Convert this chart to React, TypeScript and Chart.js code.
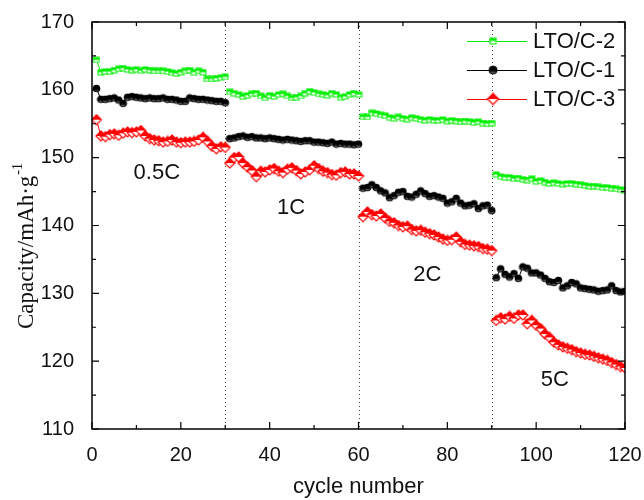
import React, { useEffect, useRef } from "react";
import { Chart, registerables } from "chart.js";

Chart.register(...registerables);

// ---------- data ----------
const cycles: number[] = Array.from({ length: 120 }, (_, i) => i + 1);

const seriesNames = ["LTO/C-2", "LTO/C-1", "LTO/C-3"];
const seriesColors = ["#00ee00", "#000000", "#ff0000"];

// LTO/C-2 (green)
const ltoC2: number[] = [
  164.4, 162.6, 162.7, 162.7, 162.9, 163.1, 163.2, 163.0, 162.9, 163.0, 162.8, 163.0, 162.9, 162.8, 162.8, 162.8, 162.7, 162.5, 162.4, 162.6, 162.8, 162.9, 162.6, 162.8, 162.6, 161.6, 161.6, 161.7, 161.8, 161.9,
  159.7, 159.5, 159.3, 159.0, 159.2, 159.4, 159.5, 159.1, 158.8, 159.2, 159.0, 159.3, 159.4, 159.1, 158.8, 158.9, 159.1, 159.5, 159.8, 159.6, 159.4, 159.3, 159.2, 159.5, 159.3, 158.9, 159.0, 159.3, 159.5, 159.3,
  156.0, 156.0, 156.6, 156.5, 156.3, 156.2, 155.9, 155.8, 156.0, 155.8, 155.7, 155.9, 155.8, 155.6, 155.5, 155.6, 155.5, 155.5, 155.6, 155.4, 155.5, 155.4, 155.3, 155.4, 155.3, 155.2, 155.3, 155.1, 155.0, 155.1,
  147.5, 147.2, 147.1, 147.1, 146.9, 147.0, 146.8, 146.7, 146.9, 146.5, 146.6, 146.4, 146.2, 146.3, 146.2, 146.1, 146.2, 146.2, 146.1, 146.0, 145.9, 145.8, 145.8, 145.7, 145.6, 145.6, 145.5, 145.4, 145.3, 145.2,
];

// LTO/C-1 (black)
const ltoC1: number[] = [
  160.2, 158.6, 158.6, 158.7, 158.8, 158.5, 158.0, 158.9, 159.0, 158.9, 158.8, 158.7, 158.8, 158.7, 158.7, 158.8, 158.6, 158.6, 158.5, 158.3, 158.3, 158.8, 158.7, 158.6, 158.6, 158.5, 158.4, 158.3, 158.3, 158.1,
  152.8, 152.9, 153.1, 153.2, 153.0, 153.1, 152.9, 152.9, 152.8, 152.9, 152.8, 152.7, 152.6, 152.7, 152.6, 152.5, 152.4, 152.5, 152.5, 152.3, 152.3, 152.2, 152.1, 152.3, 152.0, 152.1, 152.0, 152.0, 151.9, 152.0,
  145.5, 145.6, 146.0, 145.6, 145.1, 144.8, 144.1, 144.4, 144.9, 145.0, 144.3, 144.2, 144.6, 145.1, 144.7, 144.3, 144.4, 144.2, 144.0, 143.3, 143.5, 144.0, 143.3, 142.9, 143.0, 143.2, 142.5, 142.9, 143.0, 142.2,
  132.3, 133.6, 132.8, 132.4, 132.9, 132.2, 133.9, 133.7, 133.0, 133.0, 132.7, 132.2, 131.7, 131.6, 131.9, 130.8, 131.1, 131.6, 131.4, 130.8, 130.7, 130.6, 130.5, 130.3, 130.4, 130.5, 131.1, 130.4, 130.2, 130.3,
];

// LTO/C-3 (red)
const ltoC3: number[] = [
  155.6, 153.2, 153.1, 153.4, 153.5, 153.3, 153.6, 153.8, 153.7, 153.8, 154.0, 153.2, 152.8, 152.6, 152.5, 152.3, 152.4, 152.6, 152.3, 152.2, 152.3, 152.3, 152.4, 152.6, 153.0, 152.4, 151.7, 151.3, 151.6, 151.5,
  149.2, 150.0, 150.1, 149.2, 148.6, 148.1, 147.2, 148.0, 147.9, 148.2, 148.4, 148.0, 147.8, 148.3, 148.5, 148.1, 147.6, 147.9, 148.2, 148.8, 148.4, 148.0, 147.8, 147.5, 147.4, 147.8, 147.9, 147.6, 147.6, 147.3,
  141.3, 142.0, 141.6, 141.4, 141.7, 141.1, 140.6, 140.4, 140.0, 139.8, 139.9, 139.4, 139.2, 139.3, 139.0, 138.8, 138.6, 138.3, 138.0, 137.8, 137.9, 138.3, 137.6, 137.2, 137.1, 137.0, 136.9, 136.6, 136.5, 136.3,
  126.0, 126.4, 126.2, 126.6, 126.3, 126.8, 126.8, 125.5, 126.0, 125.3, 124.8, 124.0, 123.5, 122.8, 122.4, 122.1, 121.9, 121.7, 121.4, 121.2, 121.0, 120.9, 120.7, 120.5, 120.3, 120.1, 119.8, 119.5, 119.2, 119.0,
];

const rateBoundaries = [30, 60, 90];
const rateLabels = ["0.5C", "1C", "2C", "5C"];
const rateLabelX = [14.6, 44.8, 75.5, 104.2];
const rateLabelY = [147.7, 142.6, 132.7, 117.3];

const xTicksMajor = [0, 20, 40, 60, 80, 100, 120];
const yTicksMajor = [110, 120, 130, 140, 150, 160, 170];

// ---------- marker images ----------
function makeSquare(color: string) {
  const c = document.createElement("canvas");
  c.width = 8;
  c.height = 7;
  const g = c.getContext("2d")!;
  g.fillStyle = "#fff";
  g.fillRect(1, 1, 6, 5);
  g.fillStyle = color;
  g.fillRect(1, 1, 6, 2.5);
  g.strokeStyle = color;
  g.lineWidth = 1;
  g.strokeRect(1, 1, 6, 5);
  return c;
}
function makeCircle() {
  const c = document.createElement("canvas");
  c.width = 9;
  c.height = 9;
  const g = c.getContext("2d")!;
  g.beginPath();
  g.arc(4.5, 4.5, 3.8, 0, Math.PI * 2);
  g.fillStyle = "#000";
  g.fill();
  g.beginPath();
  g.arc(4.5, 4.5, 3.0, 0.15 * Math.PI, 0.85 * Math.PI);
  g.fillStyle = "#555";
  g.fill();
  return c;
}
function makeDiamond(color: string) {
  const c = document.createElement("canvas");
  c.width = 12;
  c.height = 12;
  const g = c.getContext("2d")!;
  const cx = 6, cy = 6, r = 5;
  g.beginPath();
  g.moveTo(cx, cy - r);
  g.lineTo(cx + r, cy);
  g.lineTo(cx, cy + r);
  g.lineTo(cx - r, cy);
  g.closePath();
  g.fillStyle = "#fff";
  g.fill();
  g.beginPath();
  g.moveTo(cx, cy - r);
  g.lineTo(cx + r, cy);
  g.lineTo(cx - r, cy);
  g.closePath();
  g.fillStyle = color;
  g.fill();
  g.beginPath();
  g.moveTo(cx, cy - r);
  g.lineTo(cx + r, cy);
  g.lineTo(cx, cy + r);
  g.lineTo(cx - r, cy);
  g.closePath();
  g.strokeStyle = color;
  g.lineWidth = 1.2;
  g.stroke();
  return c;
}

export default function App() {
  const ref = useRef<HTMLCanvasElement | null>(null);

  useEffect(() => {
    if (!ref.current) return;
    const markers = [makeSquare(seriesColors[0]), makeCircle(), makeDiamond(seriesColors[2])];
    const values = [ltoC2, ltoC1, ltoC3];

    const decorPlugin = {
      id: "decor",
      beforeDatasetsDraw(chart: any) {
        const { ctx, chartArea } = chart;
        const xs = chart.scales.x;
        ctx.save();
        ctx.strokeStyle = "#444";
        ctx.lineWidth = 1;
        ctx.setLineDash([1, 3]);
        rateBoundaries.forEach((b) => {
          const px = Math.round(xs.getPixelForValue(b)) + 0.5;
          ctx.beginPath();
          ctx.moveTo(px, chartArea.top);
          ctx.lineTo(px, chartArea.bottom);
          ctx.stroke();
        });
        ctx.restore();
      },
      afterDraw(chart: any) {
        const { ctx, chartArea } = chart;
        const xs = chart.scales.x;
        const ys = chart.scales.y;
        const { left, right, top, bottom } = chartArea;
        ctx.save();
        // frame
        ctx.strokeStyle = "#000";
        ctx.lineWidth = 1.5;
        ctx.strokeRect(left, top, right - left, bottom - top);
        // ticks
        ctx.lineWidth = 1.2;
        for (let v = 0; v <= 120; v += 10) {
          const px = xs.getPixelForValue(v);
          const len = v % 20 === 0 ? 7 : 4;
          ctx.beginPath();
          ctx.moveTo(px, bottom);
          ctx.lineTo(px, bottom - len);
          ctx.moveTo(px, top);
          ctx.lineTo(px, top + len);
          ctx.stroke();
        }
        for (let v = 110; v <= 170; v += 5) {
          const py = ys.getPixelForValue(v);
          const len = v % 10 === 0 ? 7 : 4;
          ctx.beginPath();
          ctx.moveTo(left, py);
          ctx.lineTo(left + len, py);
          ctx.moveTo(right, py);
          ctx.lineTo(right - len, py);
          ctx.stroke();
        }
        // rate labels
        ctx.fillStyle = "#111";
        ctx.font = "22px 'Liberation Sans', Arial, sans-serif";
        ctx.textAlign = "center";
        ctx.textBaseline = "middle";
        rateLabels.forEach((t, i) => {
          ctx.fillText(t, xs.getPixelForValue(rateLabelX[i]), ys.getPixelForValue(rateLabelY[i]));
        });
        // legend
        const legX0 = 467, legX1 = 527, legTextX = 533;
        const legY = [41, 70, 99];
        ctx.textAlign = "left";
        ctx.textBaseline = "middle";
        seriesNames.forEach((name, i) => {
          ctx.strokeStyle = seriesColors[i];
          ctx.lineWidth = 1;
          ctx.beginPath();
          ctx.moveTo(legX0, legY[i] + 0.5);
          ctx.lineTo(legX1, legY[i] + 0.5);
          ctx.stroke();
          const m = markers[i];
          const mx = 493;
          const scale = i === 1 ? 1.15 : 1.1;
          ctx.drawImage(m, mx - (m.width * scale) / 2, legY[i] - (m.height * scale) / 2, m.width * scale, m.height * scale);
          ctx.fillStyle = "#111";
          ctx.fillText(name, legTextX, legY[i] + 1);
        });
        // y title with superscript
        ctx.translate(0, 246);
        ctx.rotate(-Math.PI / 2);
        ctx.fillStyle = "#111";
        ctx.textBaseline = "alphabetic";
        ctx.textAlign = "left";
        const main = "Capacity/mAh\u00B7g";
        ctx.font = "23px 'Liberation Serif', 'Times New Roman', serif";
        const wMain = ctx.measureText(main).width;
        ctx.font = "14px 'Liberation Serif', 'Times New Roman', serif";
        const sup = "-1";
        const wSup = ctx.measureText(sup).width;
        const start = -(wMain + wSup + 1) / 2;
        ctx.font = "23px 'Liberation Serif', 'Times New Roman', serif";
        ctx.fillText(main, start, 33);
        ctx.font = "14px 'Liberation Serif', 'Times New Roman', serif";
        ctx.fillText(sup, start + wMain + 1, 22);
        ctx.restore();
      },
    };

    const chart = new Chart(ref.current, {
      type: "line",
      data: {
        datasets: seriesNames.map((name, i) => ({
          label: name,
          data: cycles.map((c, k) => ({ x: c, y: values[i][k] })),
          borderColor: seriesColors[i],
          borderWidth: 1,
          segment: {
            borderColor: (sc: any) =>
              rateBoundaries.includes(sc.p0.parsed.x) ? "rgba(0,0,0,0)" : seriesColors[i],
          },
          pointStyle: markers[i] as any,
          pointRadius: 4,
          pointHoverRadius: 4,
          fill: false,
          tension: 0,
        })),
      },
      options: {
        responsive: false,
        animation: false,
        events: [],
        layout: { padding: { top: 22, right: 19, left: 0, bottom: 0 } },
        plugins: {
          legend: { display: false },
          tooltip: { enabled: false },
          title: { display: false },
        },
        scales: {
          x: {
            type: "linear",
            min: 0,
            max: 120,
            afterBuildTicks: (scale: any) => {
              scale.ticks = xTicksMajor.map((v) => ({ value: v }));
            },
            afterFit: (scale: any) => {
              scale.height = 71;
              scale.paddingLeft = 0;
              scale.paddingRight = 0;
            },
            ticks: {
              color: "#111",
              font: { family: "'Liberation Sans', Arial, sans-serif", size: 20 },
              padding: 6,
              maxRotation: 0,
            },
            grid: { display: false },
            border: { display: false },
            title: {
              display: true,
              text: "cycle number",
              color: "#111",
              font: { family: "'Liberation Sans', Arial, sans-serif", size: 22 },
              padding: { top: 8, bottom: 0 },
            },
          },
          y: {
            type: "linear",
            min: 110,
            max: 170,
            afterBuildTicks: (scale: any) => {
              scale.ticks = yTicksMajor.map((v) => ({ value: v }));
            },
            afterFit: (scale: any) => {
              scale.width = 92;
              scale.paddingTop = 0;
              scale.paddingBottom = 0;
            },
            ticks: {
              color: "#111",
              font: { family: "'Liberation Sans', Arial, sans-serif", size: 20 },
              padding: 10,
            },
            grid: { display: false },
            border: { display: false },
          },
        },
      },
      plugins: [decorPlugin],
    });
    return () => chart.destroy();
  }, []);

  return (
    <div style={{ position: "absolute", left: 0, top: 0, width: 644, height: 500, background: "#fff" }}>
      <canvas ref={ref} width={644} height={500} style={{ display: "block" }} />
    </div>
  );
}
